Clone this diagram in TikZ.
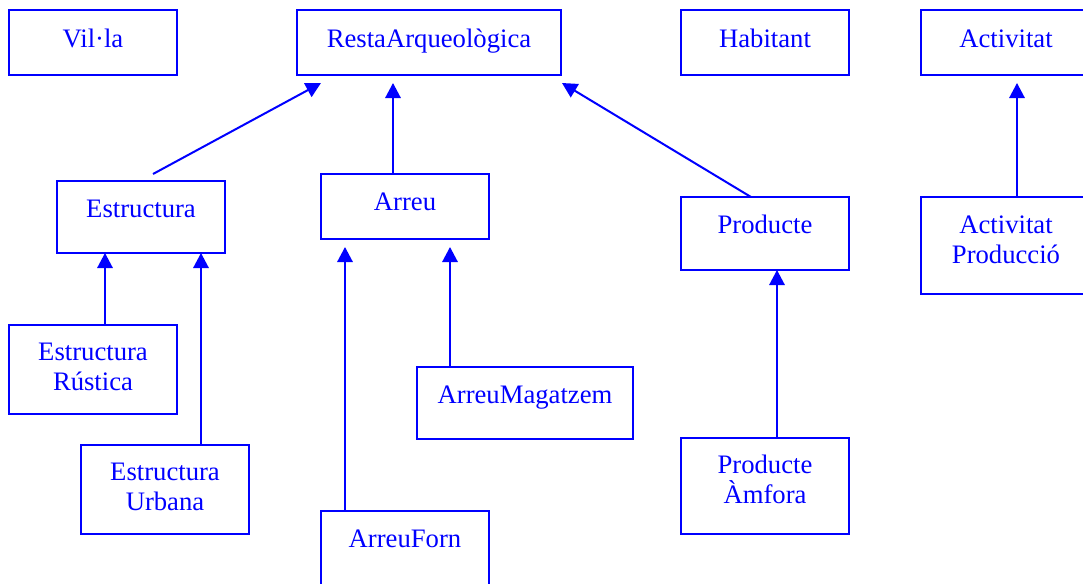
\documentclass[tikz,border=0pt]{standalone}
\usepackage{fontspec}
\setmainfont{Liberation Serif}
\usetikzlibrary{arrows.meta,calc}
\definecolor{umlblue}{RGB}{0,0,255}
\begin{document}
\begin{tikzpicture}[x=0.75pt,y=-0.75pt,
  classbox/.style={draw=umlblue, line width=1.6pt, rectangle, anchor=north west,
    inner sep=0pt, outer sep=0pt},
  classname/.style={text=umlblue, font=\fontsize{20}{22.5}\selectfont,
    text width=160pt, align=center, anchor=base, inner sep=0pt},
  isa/.style={draw=umlblue, line width=1.5pt, -{Triangle[length=11.25pt,width=11.5pt]}}]
\clip (0,0) rectangle (1083,583);
\useasboundingbox (0,0) rectangle (1083,583);

% class boxes
\node[classbox, minimum width=126pt, minimum height=48.75pt] (villa)   at (9,10)   {};
\node[classbox, minimum width=198pt, minimum height=48.75pt] (resta)   at (297,10) {};
\node[classbox, minimum width=126pt, minimum height=48.75pt] (habit)   at (681,10) {};
\node[classbox, minimum width=127.5pt, minimum height=48.75pt] (activ) at (921,10) {};
\node[classbox, minimum width=126pt, minimum height=54pt]    (estr)    at (57,181) {};
\node[classbox, minimum width=126pt, minimum height=48.75pt] (arreu)   at (321,174) {};
\node[classbox, minimum width=126pt, minimum height=54.75pt] (prod)    at (681,197) {};
\node[classbox, minimum width=127.5pt, minimum height=72.75pt] (actprod) at (921,197) {};
\node[classbox, minimum width=126pt, minimum height=66.75pt] (rust)    at (9,325) {};
\node[classbox, minimum width=126pt, minimum height=66.75pt] (urb)     at (81,445) {};
\node[classbox, minimum width=162pt, minimum height=54pt]    (mag)     at (417,367) {};
\node[classbox, minimum width=126pt, minimum height=60pt]    (forn)    at (321,511) {};
\node[classbox, minimum width=126pt, minimum height=72pt]    (amf)     at (681,438) {};

% class names
\node[classname] (villaT)   at ($(villa.north)+(0,37)$)   {Vil·la};
\node[classname] (restaT)   at ($(resta.north)+(0,37)$)   {RestaArqueològica};
\node[classname] (habitT)   at ($(habit.north)+(0,37)$)   {Habitant};
\node[classname] (activT)   at ($(activ.north)+(0,37)$)   {Activitat};
\node[classname] (estrT)    at ($(estr.north)+(0,36)$)    {Estructura};
\node[classname] (arreuT)   at ($(arreu.north)+(0,36)$)   {Arreu};
\node[classname] (prodT)    at ($(prod.north)+(0,36)$)    {Producte};
\node[classname] (actprodT) at ($(actprod.north)+(0,36)$) {Activitat\\Producció};
\node[classname] (rustT)    at ($(rust.north)+(0,35)$)    {Estructura\\Rústica};
\node[classname] (urbT)     at ($(urb.north)+(0,35)$)     {Estructura\\Urbana};
\node[classname] (magT)     at ($(mag.north)+(0,36)$)     {ArreuMagatzem};
\node[classname] (fornT)    at ($(forn.north)+(0,36)$)    {ArreuForn};
\node[classname] (amfT)     at ($(amf.north)+(0,35)$)     {Producte\\Àmfora};

% generalisation arrows
\draw[isa] ($(estr.north west)+(96,-7)$)  -- ($(resta.south west)+(24,8)$);
\draw[isa] ($(arreu.north west)+(72,0)$)  -- ($(resta.south west)+(96,8)$);
\draw[isa] ($(prod.north west)+(70,0)$)   -- ($(resta.south east)+(1,8)$);
\draw[isa] ($(actprod.north west)+(96,0)$) -- ($(activ.south west)+(96,8)$);
\draw[isa] ($(rust.north west)+(96,0)$)   -- ($(estr.south west)+(48,0)$);
\draw[isa] ($(urb.north west)+(120,0)$)   -- ($(estr.south west)+(144,0)$);
\draw[isa] ($(forn.north west)+(24,0)$)   -- ($(arreu.south west)+(24,8)$);
\draw[isa] ($(mag.north west)+(33,0)$)    -- ($(arreu.south west)+(129,8)$);
\draw[isa] ($(amf.north west)+(96,0)$)    -- ($(prod.south west)+(96,0)$);
\end{tikzpicture}
\end{document}
